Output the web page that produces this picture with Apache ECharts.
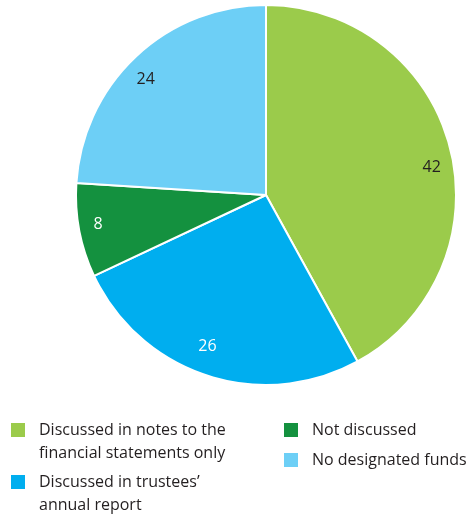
<!DOCTYPE html>
<html>
<head>
<meta charset="utf-8">
<script src="https://cdn.jsdelivr.net/npm/echarts@6/dist/echarts.min.js"></script>
<style>
  html, body { margin: 0; padding: 0; background: #fff; }
  #chart { width: 473px; height: 517px; }
</style>
</head>
<body>
<div id="chart"></div>
<script>
// Categories and shares (%) for how designated funds are disclosed
const categories = [
  'Discussed in notes to the financial statements only',
  'Discussed in trustees\u2019 annual report',
  'Not discussed',
  'No designated funds'
];
const values = [42, 26, 8, 24];

// Legend text, wrapped the way it appears under the chart
const legendLines = [
  ['Discussed in notes to the', 'financial statements only'],
  ['Discussed in trustees\u2019', 'annual report'],
  ['Not discussed'],
  ['No designated funds']
];

const colors = ['#9bcb4b', '#00aeef', '#14913f', '#6dcff6'];
const labelColors = ['#231f20', '#ffffff', '#ffffff', '#231f20'];
const labelNudge = [[1, 15], [-6, -10], [-1, -2], [-4, 8]];

const FONT = 'Open Sans';
const LINE_H = 23;
const center = [266, 195];

const chart = echarts.init(document.getElementById('chart'), null, { renderer: 'canvas' });

const pieData = categories.map((name, i) => ({
  name,
  value: values[i],
  itemStyle: { color: colors[i] }
}));

const labelData = categories.map((name, i) => ({
  name: name + ' ',
  value: values[i],
  label: { color: labelColors[i], offset: labelNudge[i] }
}));

// legend placement: [left, top of the square]
const legendSpots = [[9, 422], [9, 474], [282, 422], [282, 452]];

const legends = categories.map((name, i) => {
  const multi = legendLines[i].length > 1;
  // a leading blank line keeps the first text line level with the square
  const text = multi ? '\n' + legendLines[i].join('\n') : legendLines[i][0];
  const textH = multi ? LINE_H * 3 : LINE_H;
  const rise = Math.max(0, (textH - 16) / 2);
  return {
    data: [name],
    left: legendSpots[i][0],
    top: legendSpots[i][1] - rise,
    padding: 0,
    itemWidth: 16,
    itemHeight: 16,
    itemGap: 0,
    icon: 'rect',
    selectedMode: false,
    formatter: () => text,
    textStyle: {
      fontFamily: FONT,
      fontSize: 16,
      color: '#231f20',
      lineHeight: LINE_H,
      padding: [0, 0, 0, 8]
    }
  };
});

chart.setOption({
  animation: false,
  color: colors,
  legend: legends,
  series: [
    {
      type: 'pie',
      center,
      radius: [0, 190],
      startAngle: 90,
      clockwise: true,
      silent: true,
      label: { show: false },
      labelLine: { show: false },
      itemStyle: { borderColor: '#ffffff', borderWidth: 2 },
      data: pieData
    },
    {
      // transparent ring that carries the value labels
      type: 'pie',
      center,
      radius: [144, 190],
      startAngle: 90,
      clockwise: true,
      silent: true,
      legendHoverLink: false,
      itemStyle: { color: 'rgba(0,0,0,0)' },
      label: {
        show: true,
        position: 'inside',
        formatter: '{c}',
        fontFamily: FONT,
        fontSize: 16,
        textBorderWidth: 0
      },
      labelLine: { show: false },
      data: labelData
    }
  ]
});
</script>
</body>
</html>
